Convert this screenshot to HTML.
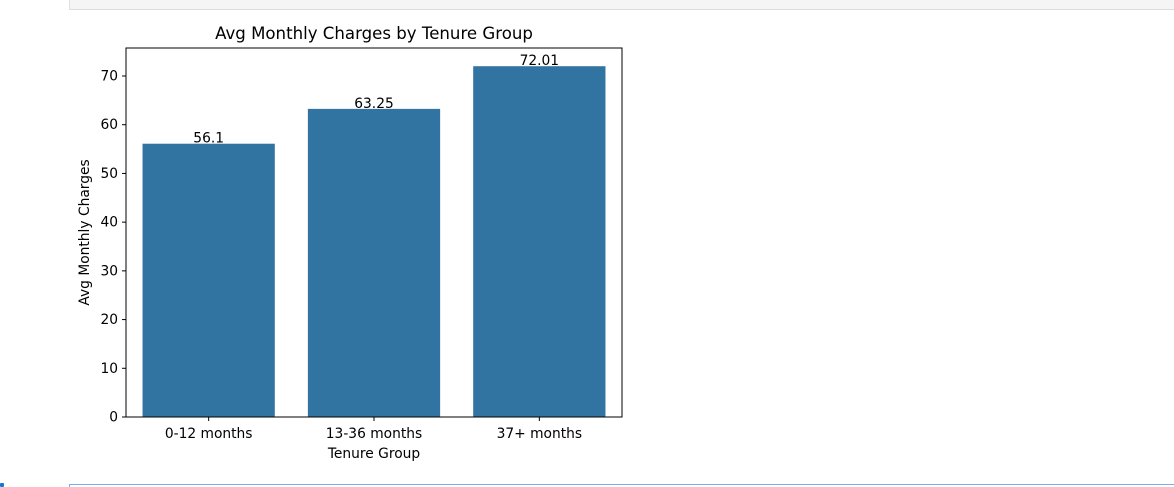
<!DOCTYPE html>
<html><head><meta charset="utf-8"><style>
html,body{margin:0;width:1174px;height:487px;overflow:hidden;}
body{background:#fff;position:relative;font-family:"DejaVu Sans","Liberation Sans",sans-serif;}
#topbar{position:absolute;left:69px;top:0;width:1105px;height:9px;background:#f5f5f5;border-bottom:1px solid #ddd;border-left:1px solid #e0e0e0;}
#botbox{position:absolute;left:69px;top:484px;width:1105px;height:3px;border-top:1px solid #7aaee6;border-left:1px solid #7aaee6;}
#dot{position:absolute;left:0;top:483px;width:4px;height:4px;background:#1976d2;border-radius:1px;}
svg{position:absolute;left:0;top:0;}
</style></head><body>
<div id="topbar"></div>
<div id="botbox"></div>
<div id="dot"></div>
<svg id="chart" width="1174" height="487"></svg>
<script>
const categories = ["0-12 months","13-36 months","37+ months"];
const values = [56.1,63.25,72.01];
const valueLabels = ["56.1","63.25","72.01"];
const yTicks = [0,10,20,30,40,50,60,70];

const NS="http://www.w3.org/2000/svg";
const svg=document.getElementById('chart');
const L=126,R=622,T=48,B=417;
const yMax=417-76;
const y=v=>B-v*(yMax/70);
const band=(R-L)/categories.length;
const x=i=>L+band*(i+0.5);
function mk(tag,attrs,text){const e=document.createElementNS(NS,tag);for(const k in attrs)e.setAttribute(k,attrs[k]);if(text!=null)e.textContent=text;svg.appendChild(e);return e;}

categories.forEach((c,i)=>{
  const bw=band*0.8;
  const r=mk('rect',{x:x(i)-bw/2,y:y(values[i]),width:bw,height:B-y(values[i]),fill:'#3274a1'});
  
  
  const t=mk('text',{x:x(i),y:y(values[i])-1,'text-anchor':'middle','font-size':'13.8',fill:'#000'},valueLabels[i]);
  
  
  mk('line',{x1:x(i),x2:x(i),y1:B,y2:B+4,stroke:'#000','stroke-width':1});
  const tl=mk('text',{x:x(i),y:B+21,'text-anchor':'middle','font-size':'13.8',fill:'#000'},c);
  
  
});
yTicks.forEach(v=>{
  mk('line',{x1:L-4,x2:L,y1:y(v),y2:y(v),stroke:'#000','stroke-width':1});
  const t=mk('text',{x:L-8,y:y(v)+4.5,'text-anchor':'end','font-size':'13.8',fill:'#000'},String(v));
  
  
});
const frame=mk('rect',{x:L,y:T,width:R-L,height:B-T,fill:'none',stroke:'#000','stroke-width':1});


const title=mk('text',{x:(L+R)/2,y:39,'text-anchor':'middle','font-size':'16.6',fill:'#000'},'Avg Monthly Charges by Tenure Group');


const xt=mk('text',{x:(L+R)/2,y:458,'text-anchor':'middle','font-size':'13.8',fill:'#000'},'Tenure Group');


const yt=mk('text',{x:0,y:0,'text-anchor':'middle','font-size':'13.8',fill:'#000',transform:'translate(89,'+((T+B)/2)+') rotate(-90)'},'Avg Monthly Charges');


</script>
</body></html>
